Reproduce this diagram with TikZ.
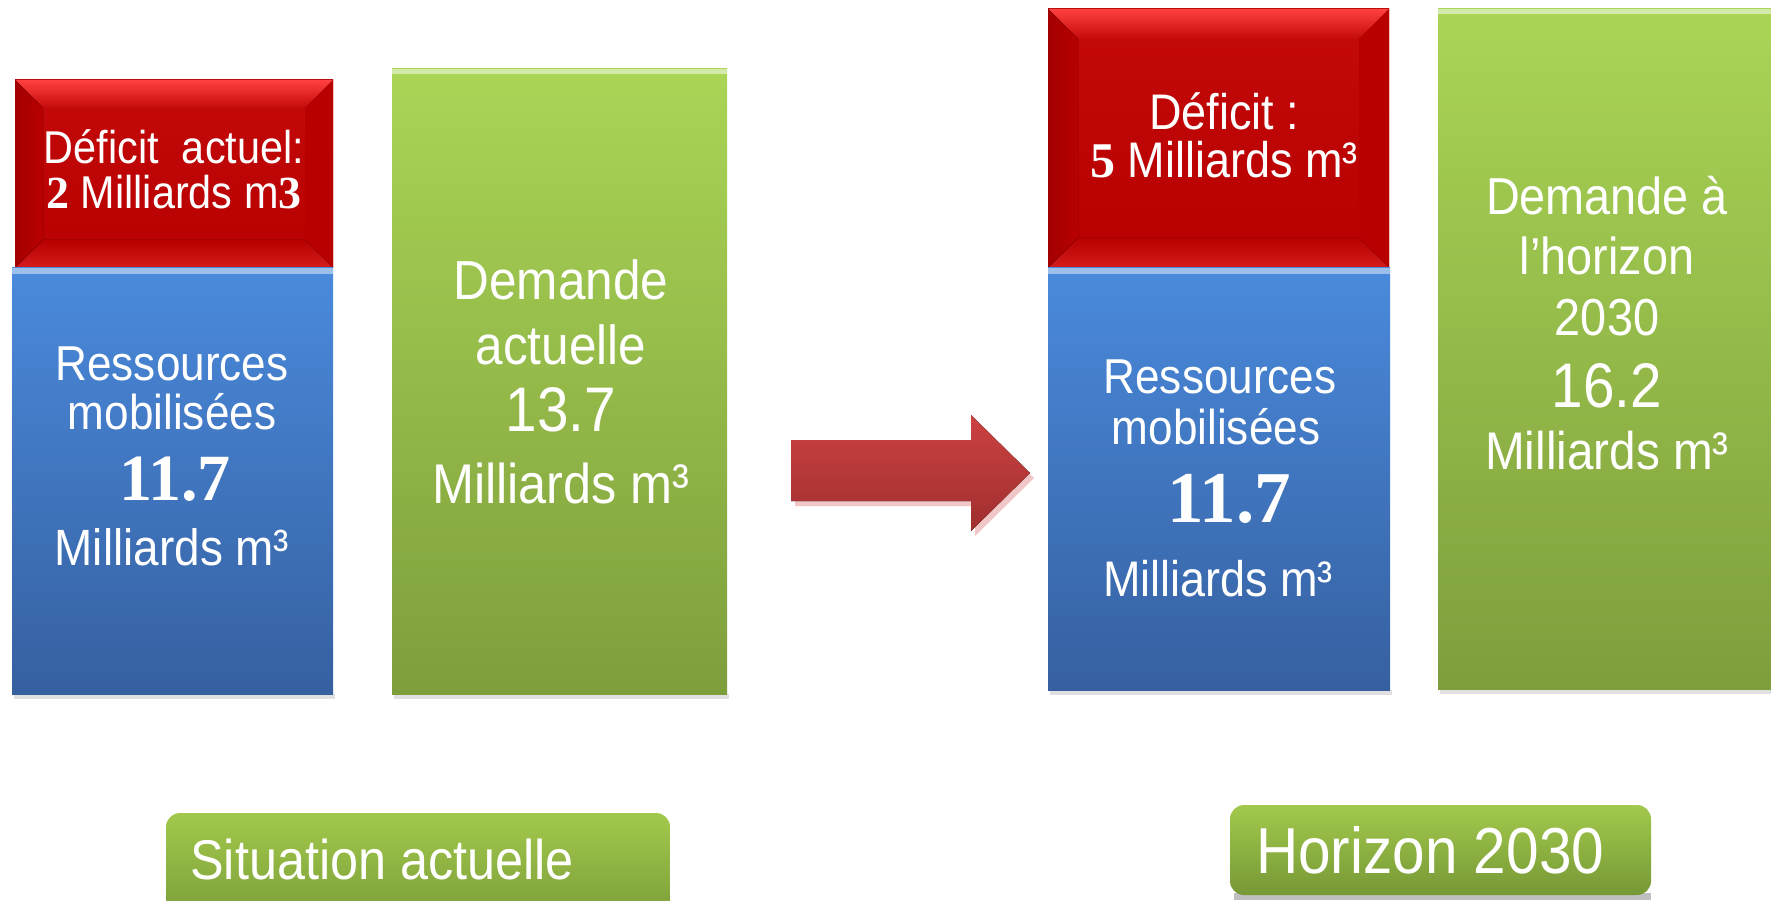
\documentclass[tikz,border=0pt]{standalone}
\usepackage{fontspec}
\setmainfont{Liberation Sans}[FakeStretch=0.9]
\newfontfamily\numf{Liberation Serif}
\newcommand{\fsz}[1]{\fontsize{#1}{#1}\selectfont}
\definecolor{redA}{HTML}{FF4040}
\definecolor{redB}{HTML}{C40A0A}
\definecolor{redC}{HTML}{B80000}
\definecolor{redL}{HTML}{A40000}
\definecolor{redR}{HTML}{B80000}
\definecolor{redD}{HTML}{D41C1C}
\definecolor{blueT}{HTML}{4A8ADC}
\definecolor{blueB}{HTML}{3660A0}
\definecolor{grnT}{HTML}{AAD556}
\definecolor{grnB}{HTML}{7E9E3C}
\definecolor{lblT}{HTML}{A2C94C}
\definecolor{lblB}{HTML}{779836}
\definecolor{arrT}{HTML}{CC4242}
\definecolor{arrB}{HTML}{A02E2E}
\newcommand{\bevel}[2]{%
  \fill[top color=redA,bottom color=redB] (#1.north west) -- (#1.north east) -- ([shift={(-#2,#2)}]#1.north east) -- ([shift={(#2,#2)}]#1.north west) -- cycle;
  \fill[left color=redL,right color=redC] (#1.north west) -- ([shift={(#2,#2)}]#1.north west) -- ([shift={(#2,-#2)}]#1.south west) -- (#1.south west) -- cycle;
  \fill[redR] (#1.north east) -- ([shift={(-#2,#2)}]#1.north east) -- ([shift={(-#2,-#2)}]#1.south east) -- (#1.south east) -- cycle;
  \fill[top color=redC,bottom color=redD] (#1.south west) -- ([shift={(#2,-#2)}]#1.south west) -- ([shift={(-#2,-#2)}]#1.south east) -- (#1.south east) -- cycle;
}
\begin{document}
\begin{tikzpicture}[x=1pt,y=-1pt,
  box/.style={inner sep=0pt, outer sep=0pt, anchor=north west, draw=none},
  redbox/.style={box, top color=redB, bottom color=redC},
  bluebox/.style={box, top color=blueT, bottom color=blueB},
  greenbox/.style={box, top color=grnT, bottom color=grnB},
  lblbox/.style={box, rounded corners=14pt, top color=lblT, bottom color=lblB},
  txt/.style={text=white, inner sep=0pt, anchor=base},
  ltxt/.style={text=white, inner sep=0pt, anchor=base west},
  shadow/.style={fill=black!12}]
\useasboundingbox (0,0) rectangle (1771,901);
\clip (0,0) rectangle (1771,901);
\fill[white] (0,0) rectangle (1771,901);

% shadows
\fill[shadow] (14,694) rectangle (335,699);
\fill[shadow] (394,694) rectangle (729,699);
\fill[shadow] (1050,690) rectangle (1392,695);
\fill[shadow] (1440,689) rectangle (1771,694);
\fill[black!25] (1234,893) rectangle (1651,900);

% left group
\node[redbox, minimum width=318pt, minimum height=188pt] (d1) at (15,80) {};
\bevel{d1}{28}
\node[bluebox, minimum width=321pt, minimum height=426pt] (b1) at (12,268) {};
\fill[blueT!55!white] (b1.north west) rectangle ([shift={(0,6)}]b1.north east);
\node[greenbox, minimum width=335pt, minimum height=625pt] (g1) at (392,69) {};
\fill[grnT!50!white] (g1.north west) rectangle ([shift={(0,5)}]g1.north east);

% right group
\node[redbox, minimum width=341pt, minimum height=259pt] (d2) at (1048,9) {};
\bevel{d2}{30}
\node[bluebox, minimum width=342pt, minimum height=422pt] (b2) at (1048,268) {};
\fill[blueT!55!white] (b2.north west) rectangle ([shift={(0,6)}]b2.north east);
\node[greenbox, minimum width=360pt, minimum height=680pt] (g2) at (1438,9) {};
\fill[grnT!50!white] (g2.north west) rectangle ([shift={(0,5)}]g2.north east);

% arrow
\fill[arrT!30] (795,445) -- (975,445) -- (975,420) -- (1034,478) -- (975,536) -- (975,506) -- (795,506) -- cycle;
\fill[top color=arrT, bottom color=arrB] (791,440) -- (971,440) -- (971,415) -- (1030,473) -- (971,531) -- (971,501) -- (791,501) -- cycle;

% labels
\node[lblbox, minimum width=504pt, minimum height=120pt] (l1) at (166,813) {};
\node[lblbox, minimum width=421pt, minimum height=90pt] (l2) at (1230,805) {};
\node[ltxt, font=\fsz{56}] (l1t) at (190,879) {Situation actuelle};
\node[ltxt, font=\fsz{65}] (l2t) at (1256,873) {Horizon 2030};

% texts left
\node[txt, font=\fsz{46}] (d1a) at (174,164) {Déficit\ \ actuel:};
\node[txt, font=\fsz{46}] (d1b) at (174,209) {{\numf\bfseries 2} Milliards m{\numf\bfseries 3}};
\node[txt, font=\fsz{49}] (b1a) at (172,380) {Ressources};
\node[txt, font=\fsz{49}] (b1b) at (172,429) {mobilisées};
\node[txt, font=\numf\bfseries\fsz{66}] (b1c) at (175,500) {11.7};
\node[txt, font=\fsz{51}] (b1d) at (172,565) {Milliards m³};
\node[txt, font=\fsz{55}] (g1a) at (561,299) {Demande};
\node[txt, font=\fsz{55}] (g1b) at (561,364) {actuelle};
\node[txt, font=\fsz{63}] (g1c) at (561,431) {13.7};
\node[txt, font=\fsz{56}] (g1d) at (561,503) {Milliards m³};

% texts right
\node[txt, font=\fsz{50}] (d2a) at (1224,130) {Déficit :};
\node[txt, font=\fsz{50}] (d2b) at (1224,178) {{\numf\bfseries 5} Milliards m³};
\node[txt, font=\fsz{49}] (b2a) at (1220,393) {Ressources};
\node[txt, font=\fsz{49}] (b2b) at (1216,444) {mobilisées};
\node[txt, font=\numf\bfseries\fsz{73}] (b2c) at (1229,522) {11.7};
\node[txt, font=\fsz{50}] (b2d) at (1218,596) {Milliards m³};
\node[txt, font=\fsz{52}] (g2a) at (1607,215) {Demande à};
\node[txt, font=\fsz{52}] (g2b) at (1607,274) {l’horizon};
\node[txt, font=\fsz{52}] (g2c) at (1607,335) {2030};
\node[txt, font=\fsz{63}] (g2d) at (1607,407) {16.2};
\node[txt, font=\fsz{53}] (g2e) at (1607,469) {Milliards m³};
\end{tikzpicture}
\end{document}
